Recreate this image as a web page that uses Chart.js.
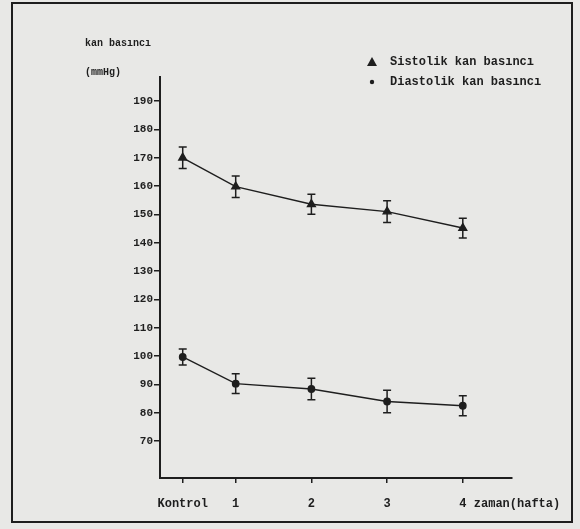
<!DOCTYPE html>
<html>
<head>
<meta charset="utf-8">
<script src="https://cdn.jsdelivr.net/npm/chart.js@4.4.1/dist/chart.umd.min.js"></script>
<style>
  html, body { margin: 0; padding: 0; background: #e8e8e6; }
  #wrap { width: 580px; height: 529px; }
</style>
</head>
<body>
<div id="wrap"><canvas id="chart" width="580" height="529"></canvas></div>
<script>
// time points (Kontrol sits a little right of the y axis)
const weeks = [0.3, 1, 2, 3, 4];
const xLabels = ["Kontrol", "1", "2", "3", "4"];
const yTicks = [70, 80, 90, 100, 110, 120, 130, 140, 150, 160, 170, 180, 190];

const sistolik = [170, 159.8, 153.6, 151, 145.2];
const sistolikErr = [3.8, 3.8, 3.5, 3.8, 3.5];
const diastolik = [99.7, 90.3, 88.4, 84, 82.5];
const diastolikErr = [2.8, 3.5, 3.8, 4, 3.5];

const ink = "#1e1e1e";
const monoFont = '"Liberation Mono", "DejaVu Sans Mono", monospace';

const toPoints = (vals) => vals.map((v, i) => ({ x: weeks[i], y: v }));

// paper background + frame, error bars, axis titles, legend
const paperPlugin = {
    id: "paper",
    beforeDraw(chart) {
        const ctx = chart.ctx;
        ctx.save();
        ctx.fillStyle = "#e8e8e6";
        ctx.fillRect(0, 0, chart.width, chart.height);
        ctx.strokeStyle = ink;
        ctx.lineWidth = 2;
        ctx.strokeRect(12, 3, 560, 519);
        ctx.restore();
    },
    afterDatasetsDraw(chart) {
        const ctx = chart.ctx;
        const xs = chart.scales.x, ys = chart.scales.y;
        const errs = [sistolikErr, diastolikErr];
        const vals = [sistolik, diastolik];
        ctx.save();
        ctx.strokeStyle = ink;
        ctx.lineWidth = 1.5;
        vals.forEach((series, s) => {
            series.forEach((v, i) => {
                const px = xs.getPixelForValue(weeks[i]);
                const top = ys.getPixelForValue(v + errs[s][i]);
                const bot = ys.getPixelForValue(v - errs[s][i]);
                ctx.beginPath();
                ctx.moveTo(px, top); ctx.lineTo(px, bot);
                ctx.moveTo(px - 4, top); ctx.lineTo(px + 4, top);
                ctx.moveTo(px - 4, bot); ctx.lineTo(px + 4, bot);
                ctx.stroke();
            });
        });
        ctx.restore();
    },
    afterDraw(chart) {
        const ctx = chart.ctx;
        const xs = chart.scales.x;
        ctx.save();
        ctx.fillStyle = ink;
        ctx.textBaseline = "middle";
        ctx.textAlign = "left";
        ctx.font = "bold 10px " + monoFont;
        ctx.fillText("kan basıncı", 85, 43);
        ctx.fillText("(mmHg)", 85, 72);

        ctx.font = "bold 12px " + monoFont;
        ctx.fillText("zaman(hafta)", xs.getPixelForValue(4) + 11, 504);

        // legend
        ctx.fillText("Sistolik kan basıncı", 390, 62);
        ctx.fillText("Diastolik kan basıncı", 390, 82);
        ctx.beginPath();
        ctx.moveTo(372, 57); ctx.lineTo(377, 66); ctx.lineTo(367, 66);
        ctx.closePath();
        ctx.fill();
        ctx.beginPath();
        ctx.arc(372, 82, 2.2, 0, Math.PI * 2);
        ctx.fill();
        ctx.restore();
    }
};

new Chart(document.getElementById("chart").getContext("2d"), {
    type: "line",
    data: {
        datasets: [{
            label: "Sistolik kan basıncı",
            data: toPoints(sistolik),
            borderColor: ink,
            borderWidth: 1.4,
            pointStyle: "triangle",
            pointRadius: 4.5,
            pointBackgroundColor: ink,
            pointBorderColor: ink,
            fill: false
        }, {
            label: "Diastolik kan basıncı",
            data: toPoints(diastolik),
            borderColor: ink,
            borderWidth: 1.4,
            pointStyle: "circle",
            pointRadius: 3.2,
            pointBackgroundColor: ink,
            pointBorderColor: ink,
            fill: false
        }]
    },
    options: {
        responsive: false,
        animation: false,
        layout: { padding: { top: 77, right: 68, left: 0, bottom: 0 } },
        scales: {
            x: {
                type: "linear",
                min: 0,
                max: 4.65,
                afterBuildTicks: (scale) => { scale.ticks = weeks.map(w => ({ value: w })); },
                afterFit: (scale) => { scale.height = 51; },
                ticks: {
                    color: ink,
                    font: { family: monoFont, size: 12, weight: "bold" },
                    padding: 14,
                    maxRotation: 0,
                    autoSkip: false,
                    callback: (v) => xLabels[weeks.indexOf(v)]
                },
                grid: { display: true, drawOnChartArea: false, drawTicks: true, tickLength: 5, color: ink, lineWidth: 1.5 },
                border: { display: true, color: ink, width: 2 }
            },
            y: {
                min: 57,
                max: 198.5,
                afterBuildTicks: (scale) => { scale.ticks = yTicks.map(v => ({ value: v })); },
                afterFit: (scale) => { scale.width = 160; },
                ticks: {
                    color: ink,
                    font: { family: monoFont, size: 11, weight: "bold" },
                    padding: 1,
                    autoSkip: false
                },
                grid: { display: true, drawOnChartArea: false, drawTicks: true, tickLength: 6, color: ink, lineWidth: 1.5 },
                border: { display: true, color: ink, width: 2 }
            }
        },
        plugins: {
            legend: { display: false },
            tooltip: { enabled: false }
        }
    },
    plugins: [paperPlugin]
});
</script>
</body>
</html>
